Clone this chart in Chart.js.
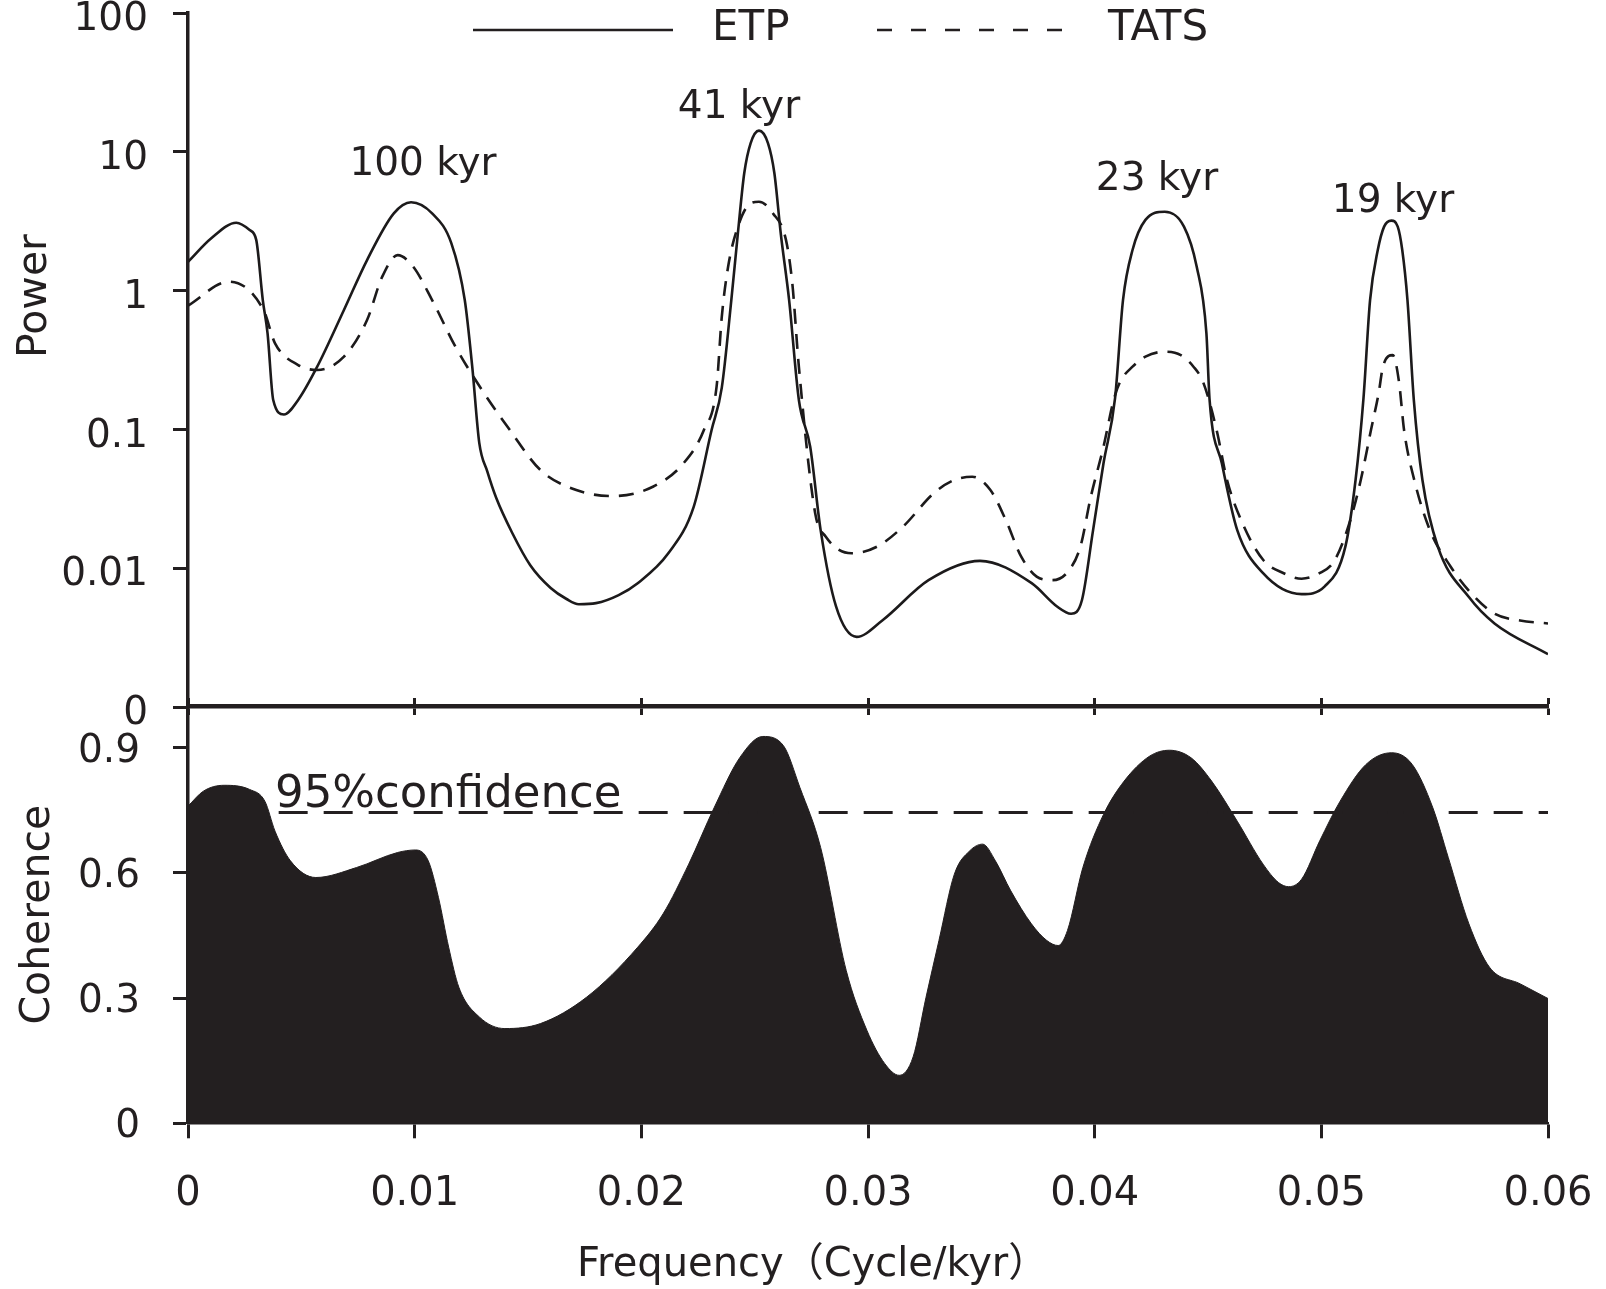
<!DOCTYPE html>
<html>
<head>
<meta charset="utf-8">
<script src="https://cdn.jsdelivr.net/npm/chart.js@4.4.1/dist/chart.umd.min.js"></script>
<style>
  html, body { margin: 0; padding: 0; background: #fff; overflow: hidden; }
  #wrap { position: relative; width: 1606px; height: 1289px; overflow: hidden; }
  canvas { position: absolute; left: 0; }
  #powerChart { top: -40px; }
  #cohChart { top: 640px; }
</style>
</head>
<body>
<div id="wrap">
  <canvas id="powerChart" width="1650" height="800"></canvas>
  <canvas id="cohChart" width="1650" height="649"></canvas>
</div>
<script>
const INK = '#231f20';
const FONT = '"DejaVu Sans", "Noto Sans CJK SC", sans-serif';

// axis ticks
const freqTicks = [0, 0.01, 0.02, 0.03, 0.04, 0.05, 0.06];
const powerTicks = [0.001, 0.01, 0.1, 1, 10, 100];
const coherenceTicks = [0, 0.3, 0.6, 0.9];

// power spectra (frequency in cycle/kyr)
const etpFreq = [0, 0.00104, 0.00213, 0.00272, 0.00301, 0.0033, 0.00351, 0.00376, 0.00423, 0.00486, 0.0057, 0.00688, 0.0079, 0.00908, 0.00984, 0.01077, 0.01162, 0.01221, 0.01254, 0.01285, 0.0132, 0.0136, 0.0143, 0.0151, 0.016, 0.0167, 0.01724, 0.018, 0.019, 0.01984, 0.02119, 0.02231, 0.0231, 0.02355, 0.02397, 0.02426, 0.02454, 0.02482, 0.02519, 0.02559, 0.02587, 0.02615, 0.02652, 0.02695, 0.02745, 0.02791, 0.02859, 0.0295, 0.03063, 0.03267, 0.03494, 0.03722, 0.03834, 0.03896, 0.03944, 0.03993, 0.04039, 0.0409, 0.04125, 0.04167, 0.04224, 0.04309, 0.04394, 0.0445, 0.04493, 0.04507, 0.04561, 0.04629, 0.04743, 0.04913, 0.05015, 0.05106, 0.05151, 0.05186, 0.05215, 0.05249, 0.05277, 0.05309, 0.05337, 0.05357, 0.0538, 0.05408, 0.05446, 0.05514, 0.05651, 0.05764, 0.06];
const etpPower = [1.61, 2.39, 3.08, 2.73, 2.32, 0.855, 0.492, 0.163, 0.128, 0.163, 0.283, 0.725, 1.66, 3.6, 4.33, 3.6, 2.19, 0.855, 0.283, 0.08, 0.05, 0.032, 0.018, 0.0105, 0.0072, 0.006, 0.0055, 0.0056, 0.0064, 0.0078, 0.0128, 0.0277, 0.099, 0.2, 0.855, 2.59, 7.0, 11.5, 14.2, 11.5, 7.0, 2.59, 0.855, 0.163, 0.075, 0.0188, 0.0053, 0.0032, 0.0042, 0.0082, 0.0113, 0.0078, 0.0053, 0.0047, 0.0059, 0.0188, 0.057, 0.168, 0.855, 1.96, 3.23, 3.7, 2.89, 1.49, 0.492, 0.163, 0.057, 0.0188, 0.0092, 0.0065, 0.0074, 0.0143, 0.0432, 0.168, 0.855, 1.96, 2.89, 3.19, 2.89, 1.96, 0.855, 0.163, 0.0432, 0.0143, 0.0062, 0.004, 0.0024];

const tatsFreq = [0, 0.00181, 0.00333, 0.00384, 0.00486, 0.0057, 0.00688, 0.0079, 0.00857, 0.00925, 0.00993, 0.01077, 0.01178, 0.01297, 0.0142, 0.01555, 0.01713, 0.01871, 0.02051, 0.02186, 0.02276, 0.02332, 0.02355, 0.02383, 0.02426, 0.02482, 0.02519, 0.02581, 0.02638, 0.02666, 0.02695, 0.02767, 0.02813, 0.02927, 0.0304, 0.03154, 0.0329, 0.03381, 0.0346, 0.0354, 0.03608, 0.03676, 0.03744, 0.03812, 0.03881, 0.03937, 0.03983, 0.04039, 0.04084, 0.04111, 0.04167, 0.04224, 0.04309, 0.0438, 0.04436, 0.04479, 0.04538, 0.04584, 0.04652, 0.04743, 0.04834, 0.04913, 0.04992, 0.0506, 0.05128, 0.05174, 0.05219, 0.05253, 0.05272, 0.05315, 0.05343, 0.05365, 0.0541, 0.05479, 0.0557, 0.05661, 0.05764, 0.05877, 0.06];
const tatsPower = [0.78, 1.16, 0.725, 0.417, 0.291, 0.268, 0.334, 0.614, 1.26, 1.8, 1.49, 0.855, 0.4, 0.192, 0.099, 0.0509, 0.0366, 0.0331, 0.0386, 0.057, 0.099, 0.203, 0.649, 1.49, 2.89, 4.26, 4.37, 3.6, 2.32, 1.13, 0.283, 0.0249, 0.0169, 0.0128, 0.0143, 0.0199, 0.0347, 0.0432, 0.0456, 0.0366, 0.0222, 0.0121, 0.0087, 0.0082, 0.0094, 0.0143, 0.0327, 0.075, 0.163, 0.218, 0.283, 0.334, 0.363, 0.343, 0.283, 0.218, 0.099, 0.0432, 0.0211, 0.0115, 0.0092, 0.0084, 0.0092, 0.0115, 0.0222, 0.0432, 0.099, 0.183, 0.283, 0.343, 0.218, 0.099, 0.0432, 0.0188, 0.0103, 0.0066, 0.0047, 0.0042, 0.004];

// coherence between ETP and TATS
const cohFreq = [0, 0.00068, 0.00159, 0.00272, 0.00339, 0.00384, 0.00452, 0.00564, 0.00744, 0.00925, 0.01004, 0.0106, 0.01105, 0.0115, 0.01195, 0.01285, 0.01398, 0.01555, 0.01758, 0.01984, 0.02096, 0.02209, 0.02321, 0.02434, 0.02536, 0.02627, 0.027, 0.02791, 0.02904, 0.02995, 0.03074, 0.03138, 0.03199, 0.03256, 0.03313, 0.03381, 0.03449, 0.03506, 0.03562, 0.0363, 0.03721, 0.03789, 0.03839, 0.0388, 0.03948, 0.04039, 0.0413, 0.04243, 0.0433, 0.04425, 0.04516, 0.04629, 0.04743, 0.04811, 0.04856, 0.04913, 0.04993, 0.05083, 0.05197, 0.0531, 0.05401, 0.05492, 0.0556, 0.05651, 0.05742, 0.05878, 0.06];
const coherence = [0.76, 0.796, 0.81, 0.8, 0.772, 0.7, 0.629, 0.589, 0.613, 0.649, 0.655, 0.629, 0.541, 0.422, 0.326, 0.255, 0.227, 0.239, 0.302, 0.422, 0.502, 0.621, 0.756, 0.876, 0.927, 0.905, 0.804, 0.661, 0.366, 0.223, 0.143, 0.115, 0.159, 0.302, 0.438, 0.597, 0.653, 0.669, 0.629, 0.557, 0.478, 0.438, 0.426, 0.462, 0.613, 0.74, 0.82, 0.88, 0.894, 0.876, 0.82, 0.724, 0.621, 0.577, 0.567, 0.585, 0.677, 0.772, 0.86, 0.888, 0.86, 0.756, 0.637, 0.478, 0.374, 0.334, 0.299];

const confLevel = 0.745;
const confFreq = [0.004, 0.06];

const peakLabels = ['100 kyr', '41 kyr', '23 kyr', '19 kyr'];

function pairs(xs, ys) {
    return xs.map((x, i) => ({ x: x, y: ys[i] }));
}

// draws legend keys and loose text (page coordinates, shifted by offsetY)
const figureText = {
    id: 'figureText',
    afterDraw(chart, args, opts) {
        const ctx = chart.ctx;
        const dy = opts.offsetY || 0;
        ctx.save();
        ctx.fillStyle = INK;
        ctx.strokeStyle = INK;
        ctx.textBaseline = 'alphabetic';
        (opts.keys || []).forEach(k => {
            const ds = chart.data.datasets[k.dataset];
            ctx.lineWidth = ds.borderWidth;
            ctx.setLineDash(k.dash || []);
            ctx.beginPath();
            ctx.moveTo(k.x1, k.y + dy);
            ctx.lineTo(k.x2, k.y + dy);
            ctx.stroke();
            ctx.setLineDash([]);
            ctx.font = k.size + 'px ' + FONT;
            ctx.textAlign = 'left';
            ctx.fillText(ds.label, k.tx, k.ty + dy);
        });
        (opts.texts || []).forEach(t => {
            ctx.save();
            ctx.font = t.size + 'px ' + FONT;
            ctx.textAlign = t.align || 'left';
            ctx.translate(t.x, t.y + dy);
            if (t.rotate) ctx.rotate(t.rotate);
            ctx.fillText(t.text, 0, 0);
            ctx.restore();
        });
        ctx.restore();
    }
};

Chart.defaults.font.family = FONT;
Chart.defaults.color = INK;

const tickMarks = (len) => ({
    drawOnChartArea: false, drawTicks: true, tickLength: len, tickWidth: 3, tickColor: INK
});

// --- Power spectra ---
new Chart(document.getElementById('powerChart'), {
    type: 'line',
    data: {
        datasets: [{
            label: 'ETP',
            data: pairs(etpFreq, etpPower),
            borderColor: '#1c1a1b',
            borderWidth: 2.6,
            pointRadius: 0,
            cubicInterpolationMode: 'monotone',
            fill: false
        }, {
            label: 'TATS',
            data: pairs(tatsFreq, tatsPower),
            borderColor: '#1c1a1b',
            borderWidth: 2.6,
            borderDash: [15, 10],
            pointRadius: 0,
            cubicInterpolationMode: 'monotone',
            fill: false
        }]
    },
    options: {
        responsive: false,
        devicePixelRatio: 1,
        animation: false,
        events: [],
        layout: { padding: { top: 53, right: 102, bottom: 45, left: 0 } },
        scales: {
            x: {
                type: 'linear', min: 0, max: 0.06,
                afterBuildTicks: s => { s.ticks = freqTicks.map(v => ({ value: v })); },
                afterFit: s => { s.height = 8; },
                ticks: { display: false },
                grid: tickMarks(8),
                border: { display: true, width: 3.5, color: INK }
            },
            y: {
                type: 'logarithmic', min: 0.001, max: 100,
                afterBuildTicks: s => { s.ticks = powerTicks.map(v => ({ value: v })); },
                afterFit: s => { s.width = 188; },
                ticks: {
                    callback: v => v === 0.001 ? '0' : String(v),
                    font: { size: 39 },
                    color: INK,
                    padding: 25,
                    labelOffset: 7
                },
                grid: tickMarks(15),
                border: { display: true, width: 3.5, color: INK }
            }
        },
        plugins: {
            legend: { display: false },
            tooltip: { enabled: false },
            figureText: {
                offsetY: 40,
                keys: [
                    { dataset: 0, x1: 473, x2: 673, y: 30, tx: 712, ty: 40, size: 42 },
                    { dataset: 1, dash: [15, 19], x1: 877, x2: 1072, y: 30, tx: 1108, ty: 40, size: 42 }
                ],
                texts: [
                    { text: 'Power', x: 46, y: 296, rotate: -Math.PI / 2, align: 'center', size: 41 },
                    { text: peakLabels[0], x: 423, y: 175, align: 'center', size: 39 },
                    { text: peakLabels[1], x: 739, y: 118, align: 'center', size: 39 },
                    { text: peakLabels[2], x: 1157, y: 190, align: 'center', size: 39 },
                    { text: peakLabels[3], x: 1393, y: 212, align: 'center', size: 39 }
                ]
            }
        }
    },
    plugins: [figureText]
});

// --- Coherence ---
new Chart(document.getElementById('cohChart'), {
    type: 'line',
    data: {
        datasets: [{
            label: '95% confidence',
            data: pairs(confFreq, [confLevel, confLevel]),
            borderColor: INK,
            borderWidth: 3,
            borderDash: [29, 16],
            pointRadius: 0,
            fill: false
        }, {
            label: 'Coherence',
            data: pairs(cohFreq, coherence),
            borderColor: INK,
            backgroundColor: INK,
            borderWidth: 1,
            pointRadius: 0,
            cubicInterpolationMode: 'monotone',
            fill: 'origin'
        }]
    },
    options: {
        responsive: false,
        devicePixelRatio: 1,
        animation: false,
        events: [],
        layout: { padding: { top: 40, right: 102, bottom: 0, left: 0 } },
        scales: {
            x: {
                type: 'linear', min: 0, max: 0.06,
                afterBuildTicks: s => { s.ticks = freqTicks.map(v => ({ value: v })); },
                afterFit: s => { s.height = 165.7; },
                ticks: {
                    callback: v => v === 0 ? '0' : v.toFixed(2),
                    font: { size: 40 },
                    color: INK,
                    padding: 32,
                    maxRotation: 0
                },
                grid: tickMarks(15),
                border: { display: true, width: 2.5, color: INK }
            },
            x2: {
                type: 'linear', position: 'top', min: 0, max: 0.06,
                afterBuildTicks: s => { s.ticks = freqTicks.map(v => ({ value: v })); },
                afterFit: s => { s.height = 26; },
                ticks: { display: false },
                grid: tickMarks(8),
                border: { display: true, width: 3.5, color: INK }
            },
            y: {
                type: 'linear', min: 0, max: 1,
                afterBuildTicks: s => { s.ticks = coherenceTicks.map(v => ({ value: v })); },
                afterFit: s => { s.width = 188; },
                ticks: {
                    callback: v => v === 0 ? '0' : v.toFixed(1),
                    font: { size: 39 },
                    color: INK,
                    padding: 33,
                    labelOffset: 4
                },
                title: {
                    display: true,
                    text: 'Coherence',
                    font: { size: 41 },
                    color: INK,
                    padding: { top: 14, bottom: 0 }
                },
                grid: tickMarks(15),
                border: { display: true, width: 3.5, color: INK }
            }
        },
        plugins: {
            legend: { display: false },
            tooltip: { enabled: false },
            figureText: {
                offsetY: -640,
                texts: [
                    { text: '95%confidence', x: 275, y: 807, size: 45 },
                    { text: 'Frequency（Cycle/kyr）', x: 577, y: 1276, size: 40 }
                ]
            }
        }
    },
    plugins: [figureText]
});
</script>
</body>
</html>
